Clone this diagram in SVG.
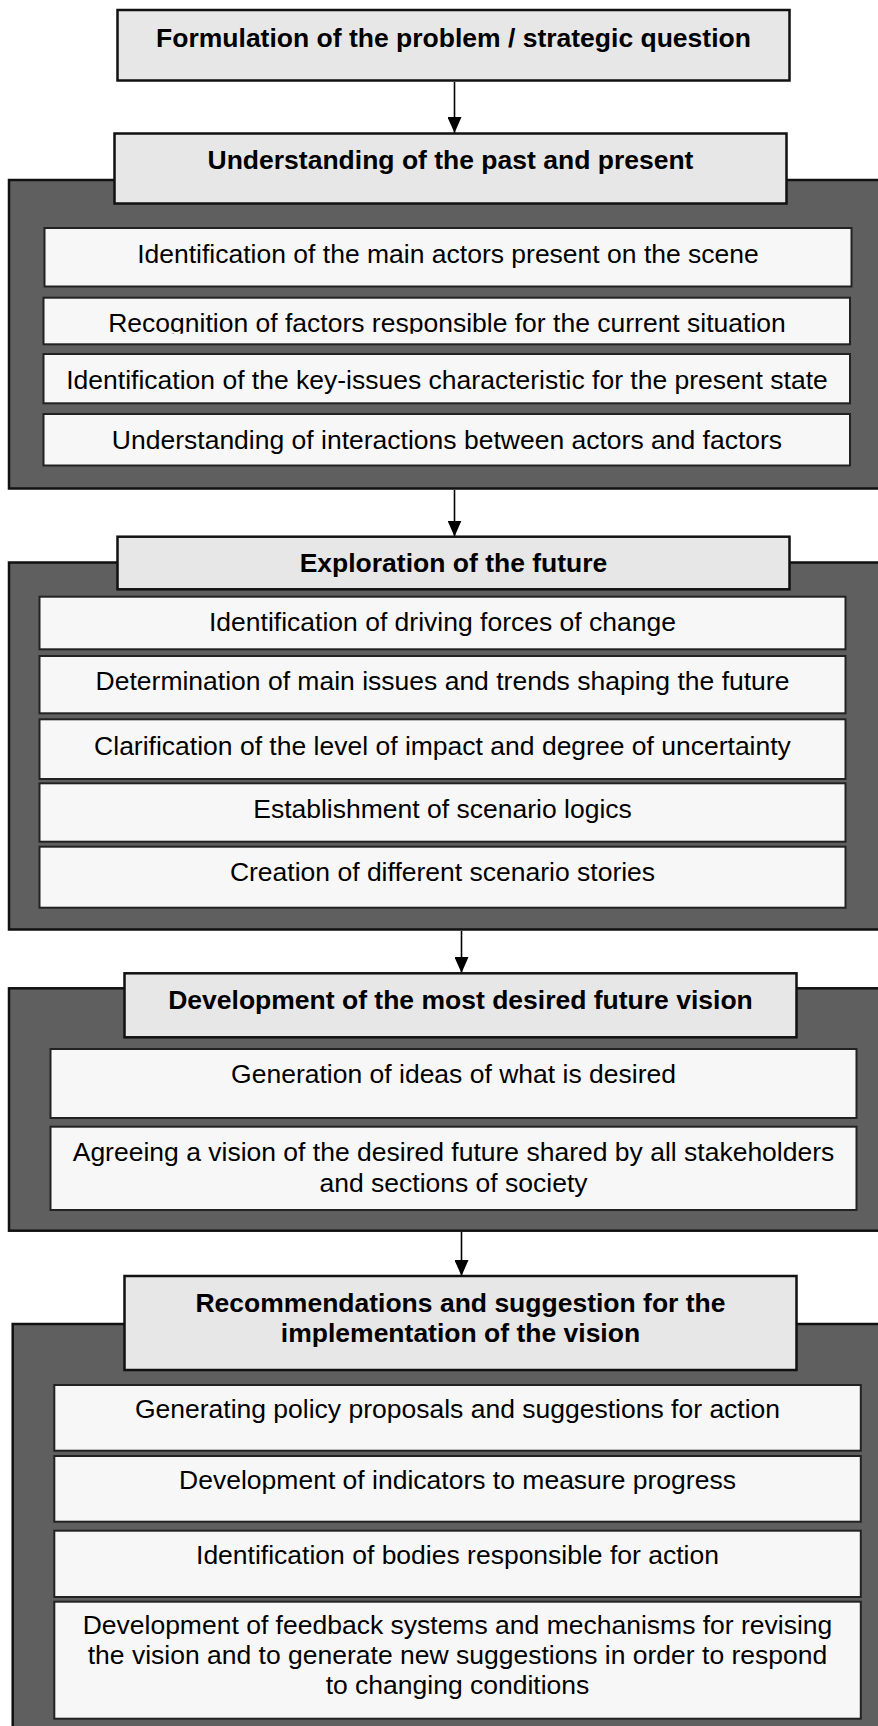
<svg xmlns="http://www.w3.org/2000/svg" width="878" height="1726" viewBox="0 0 878 1726">
<defs>
<style>
.panel{fill:#5f5f5f;stroke:#111;stroke-width:2.5}
.head{fill:#e7e7e7;stroke:#111;stroke-width:2.5}
.item{fill:#f7f7f7;stroke:#222;stroke-width:2}
.ht{font-family:"Liberation Sans",Arial,sans-serif;font-size:26.5px;font-weight:bold;fill:#000;text-anchor:middle}
.it{font-family:"Liberation Sans",Arial,sans-serif;font-size:26.5px;fill:#000;text-anchor:middle}
.conn{stroke:#000;stroke-width:1.6;fill:none;marker-end:url(#arr)}
</style>
<marker id="arr" markerUnits="userSpaceOnUse" markerWidth="16" markerHeight="14" refX="16" refY="7" orient="auto" viewBox="0 0 16 14">
<path d="M0,0 L16,7 L0,14 Z" fill="#000"/>
</marker>
<clipPath id="clipRec"><rect x="40" y="295" width="815" height="38.7"/></clipPath>
</defs>
<rect width="878" height="1726" fill="#fff"/>

<g id="connectors">
<line class="conn" x1="454.5" y1="82" x2="454.5" y2="133"/>
<line class="conn" x1="454.5" y1="490" x2="454.5" y2="536.5"/>
<line class="conn" x1="461.5" y1="931" x2="461.5" y2="973"/>
<line class="conn" x1="461.5" y1="1232" x2="461.5" y2="1276"/>
</g>

<g id="n-formulation">
<rect class="head" x="117.5" y="10" width="672" height="70.5"/>
<text class="ht" x="453.5" y="46.5">Formulation of the problem / strategic question</text>
</g>

<g id="panel-understanding">
<rect class="panel" x="9" y="180" width="880" height="308.5"/>
<g id="n-understanding">
<rect class="head" x="114.5" y="133.5" width="672" height="70"/>
<text class="ht" x="450.5" y="168.5">Understanding of the past and present</text>
</g>
<g id="n-u1">
<rect class="item" x="44.5" y="228" width="807" height="58.5"/>
<text class="it" x="448" y="263">Identification of the main actors present on the scene</text>
</g>
<g id="n-u2">
<rect class="item" x="43.5" y="297.7" width="806.5" height="46.6"/>
<text class="it" x="447" y="332" clip-path="url(#clipRec)">Recognition of factors responsible for the current situation</text>
</g>
<g id="n-u3">
<rect class="item" x="43.5" y="354" width="806.5" height="49.3"/>
<text class="it" x="447" y="389">Identification of the key-issues characteristic for the present state</text>
</g>
<g id="n-u4">
<rect class="item" x="43.5" y="414" width="806.5" height="51.5"/>
<text class="it" x="447" y="448.5">Understanding of interactions between actors and factors</text>
</g>
</g>

<g id="panel-exploration">
<rect class="panel" x="9" y="562.5" width="880" height="367"/>
<g id="n-exploration">
<rect class="head" x="117.5" y="536.7" width="672" height="52.6"/>
<text class="ht" x="453.5" y="571.5">Exploration of the future</text>
</g>
<g id="n-e1">
<rect class="item" x="39.5" y="596.7" width="806" height="52.6"/>
<text class="it" x="442.5" y="630.5">Identification of driving forces of change</text>
</g>
<g id="n-e2">
<rect class="item" x="39.5" y="656" width="806" height="57.3"/>
<text class="it" x="442.5" y="690">Determination of main issues and trends shaping the future</text>
</g>
<g id="n-e3">
<rect class="item" x="39.5" y="719.3" width="806" height="59.7"/>
<text class="it" x="442.5" y="754.5">Clarification of the level of impact and degree of uncertainty</text>
</g>
<g id="n-e4">
<rect class="item" x="39.5" y="783.3" width="806" height="58.4"/>
<text class="it" x="442.5" y="817.5">Establishment of scenario logics</text>
</g>
<g id="n-e5">
<rect class="item" x="39.5" y="846.7" width="806" height="61"/>
<text class="it" x="442.5" y="880.5">Creation of different scenario stories</text>
</g>
</g>

<g id="panel-vision">
<rect class="panel" x="9" y="988.3" width="880" height="242.4"/>
<g id="n-vision">
<rect class="head" x="124.5" y="973.3" width="672" height="64"/>
<text class="ht" x="460.5" y="1008.5">Development of the most desired future vision</text>
</g>
<g id="n-v1">
<rect class="item" x="50.5" y="1049" width="806" height="69"/>
<text class="it" x="453.5" y="1082.5">Generation of ideas of what is desired</text>
</g>
<g id="n-v2">
<rect class="item" x="50.5" y="1126.7" width="806" height="83.3"/>
<text class="it" x="453.5" y="1161">Agreeing a vision of the desired future shared by all stakeholders</text>
<text class="it" x="453.5" y="1191.5">and sections of society</text>
</g>
</g>

<g id="panel-recommendations">
<rect class="panel" x="12.7" y="1324" width="880" height="420"/>
<g id="n-recommendations">
<rect class="head" x="124.5" y="1276" width="672" height="94"/>
<text class="ht" x="460.5" y="1311.5">Recommendations and suggestion for the</text>
<text class="ht" x="460.5" y="1341.5">implementation of the vision</text>
</g>
<g id="n-r1">
<rect class="item" x="54.3" y="1385" width="806.5" height="65.7"/>
<text class="it" x="457.5" y="1418">Generating policy proposals and suggestions for action</text>
</g>
<g id="n-r2">
<rect class="item" x="54.3" y="1456" width="806.5" height="65.7"/>
<text class="it" x="457.5" y="1489">Development of indicators to measure progress</text>
</g>
<g id="n-r3">
<rect class="item" x="54.3" y="1530.7" width="806.5" height="66.3"/>
<text class="it" x="457.5" y="1563.5">Identification of bodies responsible for action</text>
</g>
<g id="n-r4">
<rect class="item" x="54.3" y="1601.7" width="806.5" height="117"/>
<text class="it" x="457.5" y="1634">Development of feedback systems and mechanisms for revising</text>
<text class="it" x="457.5" y="1664">the vision and to generate new suggestions in order to respond</text>
<text class="it" x="457.5" y="1694">to changing conditions</text>
</g>
</g>
</svg>
